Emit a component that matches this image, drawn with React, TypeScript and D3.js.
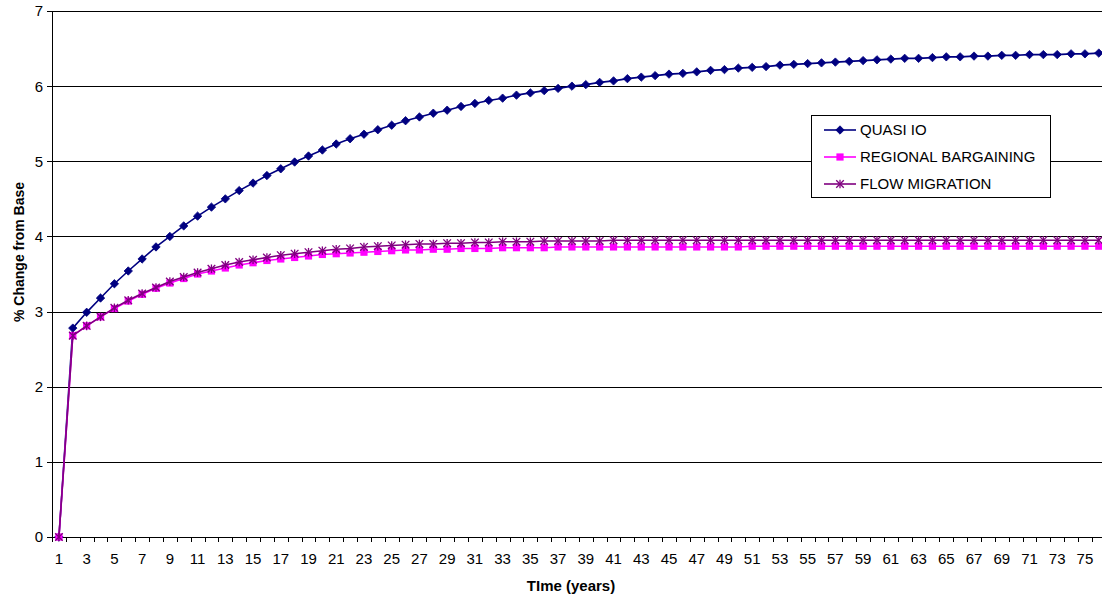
import React from "react";
import * as d3 from "d3";

const categories: number[] = d3.range(1, 77);

const quasiIO: number[] = [
  0, 2.78, 2.99, 3.18, 3.37, 3.54, 3.7, 3.86, 4.0, 4.14,
  4.27, 4.39, 4.5, 4.61, 4.71, 4.81, 4.9, 4.99, 5.07, 5.15,
  5.23, 5.3, 5.36, 5.42, 5.48, 5.54, 5.59, 5.64, 5.68, 5.73,
  5.77, 5.81, 5.84, 5.88, 5.91, 5.94, 5.97, 6.0, 6.02, 6.05,
  6.07, 6.1, 6.12, 6.14, 6.16, 6.17, 6.19, 6.21, 6.22, 6.24,
  6.25, 6.26, 6.28, 6.29, 6.3, 6.31, 6.32, 6.33, 6.34, 6.35,
  6.36, 6.37, 6.37, 6.38, 6.39, 6.39, 6.4, 6.4, 6.41, 6.41,
  6.42, 6.42, 6.42, 6.43, 6.43, 6.44,
];

const regionalBargaining: number[] = [
  0, 2.68, 2.81, 2.93, 3.04, 3.14, 3.23, 3.31, 3.38, 3.44,
  3.5, 3.54, 3.58, 3.62, 3.65, 3.68, 3.7, 3.72, 3.74, 3.76,
  3.77, 3.78, 3.79, 3.8, 3.81, 3.82, 3.82, 3.83, 3.83, 3.84,
  3.84, 3.84, 3.85, 3.85, 3.85, 3.85, 3.86, 3.86, 3.86, 3.86,
  3.86, 3.86, 3.86, 3.86, 3.86, 3.86, 3.86, 3.86, 3.86, 3.86,
  3.87, 3.87, 3.87, 3.87, 3.87, 3.87, 3.87, 3.87, 3.87, 3.87,
  3.87, 3.87, 3.87, 3.87, 3.87, 3.87, 3.87, 3.87, 3.87, 3.87,
  3.87, 3.87, 3.87, 3.87, 3.87, 3.87,
];

const flowMigration: number[] = [
  0, 2.68, 2.81, 2.93, 3.05, 3.15, 3.24, 3.32, 3.4, 3.46,
  3.52, 3.57, 3.62, 3.66, 3.69, 3.72, 3.75, 3.77, 3.79, 3.81,
  3.83, 3.84, 3.86, 3.87, 3.88, 3.89, 3.9, 3.9, 3.91, 3.91,
  3.92, 3.92, 3.93, 3.93, 3.93, 3.94, 3.94, 3.94, 3.94, 3.94,
  3.95, 3.95, 3.95, 3.95, 3.95, 3.95, 3.95, 3.95, 3.95, 3.95,
  3.95, 3.95, 3.95, 3.95, 3.95, 3.95, 3.95, 3.95, 3.95, 3.95,
  3.95, 3.95, 3.95, 3.95, 3.95, 3.95, 3.95, 3.95, 3.95, 3.95,
  3.95, 3.95, 3.95, 3.95, 3.95, 3.95,
];

const yTicks: number[] = [0, 1, 2, 3, 4, 5, 6, 7];
const seriesNames: string[] = ["QUASI IO", "REGIONAL BARGAINING", "FLOW MIGRATION"];
const seriesColors: string[] = ["#000080", "#FF00FF", "#800080"];
const yTitle = "% Change from Base";
const xTitle = "TIme (years)";

const W = 1102;
const H = 601;
const left = 52;
const top = 11;
const bottom = 537;
const bandW = 13.865;
const right = left + bandW * categories.length;

function Marker({ kind, x, y, color }: { kind: number; x: number; y: number; color: string }) {
  if (kind === 0) {
    const r = 4.2;
    return (
      <path
        d={`M${x},${y - r}L${x + r},${y}L${x},${y + r}L${x - r},${y}Z`}
        fill={color}
        stroke={color}
        strokeWidth={0.8}
      />
    );
  }
  if (kind === 1) {
    const s = 3.6;
    return <rect x={x - s} y={y - s} width={2 * s} height={2 * s} fill={color} />;
  }
  const r = 3.8;
  return (
    <g stroke={color} strokeWidth={1.3}>
      <line x1={x - r} y1={y - r} x2={x + r} y2={y + r} />
      <line x1={x - r} y1={y + r} x2={x + r} y2={y - r} />
      <line x1={x} y1={y - r - 0.5} x2={x} y2={y + r + 0.5} />
    </g>
  );
}

export default function App() {
  const x = d3
    .scaleBand<number>()
    .domain(categories)
    .range([left, right])
    .padding(0);
  const cx = (c: number) => (x(c) as number) + x.bandwidth() / 2;
  const y = d3.scaleLinear().domain([0, 7]).range([bottom, top]);

  const series = [quasiIO, regionalBargaining, flowMigration];
  const line = d3
    .line<number>()
    .x((_, i) => cx(categories[i]))
    .y((v) => y(v));

  const boundaries = d3.range(0, categories.length + 1).map((k) => left + k * x.bandwidth());

  const legX = 811.5;
  const legY = 115.5;
  const legW = 239;
  const legH = 82;
  const legRows = [130, 157, 184];

  return (
    <svg
      width={W}
      height={H}
      style={{ position: "absolute", left: 0, top: 0, background: "#fff" }}
      fontFamily="'Liberation Sans', Arial, sans-serif"
    >
      <rect x={0} y={0} width={W} height={H} fill="#fff" />
      {yTicks.map((t) => (
        <line
          key={"g" + t}
          x1={left}
          x2={right}
          y1={Math.round(y(t)) + 0.5}
          y2={Math.round(y(t)) + 0.5}
          stroke="#000"
          strokeWidth={1}
        />
      ))}
      <line x1={left + 0.5} x2={left + 0.5} y1={top} y2={bottom + 0.5} stroke="#000" />
      {yTicks.map((t) => (
        <g key={"yt" + t}>
          <line
            x1={left - 5}
            x2={left}
            y1={Math.round(y(t)) + 0.5}
            y2={Math.round(y(t)) + 0.5}
            stroke="#000"
          />
          <text x={43} y={y(t)} dy="0.36em" textAnchor="end" fontSize={15} fill="#000">
            {t}
          </text>
        </g>
      ))}
      <line x1={left} x2={right} y1={bottom + 0.5} y2={bottom + 0.5} stroke="#000" />
      {boundaries.map((b, i) => (
        <line
          key={"xt" + i}
          x1={Math.round(b) + 0.5}
          x2={Math.round(b) + 0.5}
          y1={bottom}
          y2={bottom + 5}
          stroke="#000"
        />
      ))}
      {categories
        .filter((c) => c % 2 === 1)
        .map((c) => (
          <text key={"xl" + c} x={cx(c)} y={564} textAnchor="middle" fontSize={15} fill="#000">
            {c}
          </text>
        ))}
      <text
        transform={`translate(24,322) rotate(-90)`}
        textAnchor="start"
        fontSize={14}
        fontWeight="bold"
        fill="#000"
      >
        {yTitle}
      </text>
      <text x={571} y={591} textAnchor="middle" fontSize={15} fontWeight="bold" fill="#000">
        {xTitle}
      </text>
      {series.map((s, si) => (
        <g key={"s" + si}>
          <path d={line(s) || ""} fill="none" stroke={seriesColors[si]} strokeWidth={1.6} />
          {s.map((v, i) => (
            <Marker key={i} kind={si} x={cx(categories[i])} y={y(v)} color={seriesColors[si]} />
          ))}
        </g>
      ))}
      <rect x={legX} y={legY} width={legW} height={legH} fill="#fff" stroke="#000" strokeWidth={1} />
      {seriesNames.map((n, i) => (
        <g key={"l" + i}>
          <line x1={824} x2={856} y1={legRows[i]} y2={legRows[i]} stroke={seriesColors[i]} strokeWidth={1.6} />
          <Marker kind={i} x={840} y={legRows[i]} color={seriesColors[i]} />
          <text x={860} y={legRows[i]} dy="0.36em" fontSize={15} fill="#000">
            {n}
          </text>
        </g>
      ))}
    </svg>
  );
}
